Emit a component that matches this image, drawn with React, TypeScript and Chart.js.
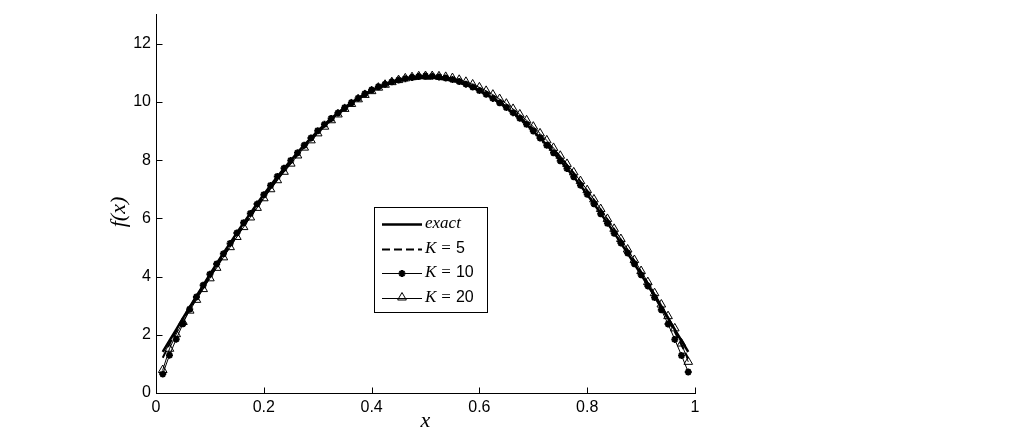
import React, { useEffect, useRef } from "react";
import { Chart, registerables } from "chart.js";
Chart.register(...registerables);

const xs = [0.0125,0.025,0.0375,0.05,0.0625,0.075,0.0875,0.1,0.1125,0.125,0.1375,0.15,0.1625,0.175,0.1875,0.2,0.2125,0.225,0.2375,0.25,0.2625,0.275,0.2875,0.3,0.3125,0.325,0.3375,0.35,0.3625,0.375,0.3875,0.4,0.4125,0.425,0.4375,0.45,0.4625,0.475,0.4875,0.5,0.5125,0.525,0.5375,0.55,0.5625,0.575,0.5875,0.6,0.6125,0.625,0.6375,0.65,0.6625,0.675,0.6875,0.7,0.7125,0.725,0.7375,0.75,0.7625,0.775,0.7875,0.8,0.8125,0.825,0.8375,0.85,0.8625,0.875,0.8875,0.9,0.9125,0.925,0.9375,0.95,0.9625,0.975,0.9875];

const exactY = [1.41,1.80,2.18,2.57,2.95,3.33,3.70,4.07,4.44,4.80,5.15,5.50,5.84,6.17,6.50,6.82,7.13,7.43,7.71,7.99,8.26,8.52,8.76,9.00,9.22,9.43,9.62,9.81,9.97,10.13,10.27,10.40,10.51,10.61,10.69,10.76,10.81,10.85,10.87,10.88,10.87,10.85,10.81,10.76,10.69,10.61,10.51,10.40,10.27,10.13,9.97,9.81,9.62,9.43,9.22,9.00,8.76,8.52,8.26,7.99,7.71,7.43,7.13,6.82,6.50,6.17,5.84,5.50,5.15,4.80,4.44,4.07,3.70,3.33,2.95,2.57,2.18,1.80,1.41];

const k5Y = [1.21,1.68,2.12,2.54,2.91,3.27,3.63,3.99,4.35,4.70,5.05,5.40,5.74,6.07,6.40,6.72,7.03,7.33,7.62,7.90,8.18,8.44,8.69,8.93,9.16,9.37,9.57,9.76,9.93,10.09,10.23,10.36,10.47,10.57,10.65,10.71,10.76,10.79,10.80,10.80,10.80,10.79,10.76,10.72,10.66,10.58,10.49,10.39,10.27,10.14,9.99,9.84,9.66,9.48,9.28,9.07,8.84,8.61,8.36,8.10,7.83,7.55,7.26,6.95,6.64,6.31,5.97,5.63,5.27,4.91,4.54,4.16,3.77,3.37,2.96,2.54,2.10,1.65,1.18];

const k10Y = [0.65,1.30,1.85,2.38,2.88,3.30,3.70,4.08,4.43,4.78,5.14,5.50,5.85,6.17,6.49,6.81,7.13,7.44,7.72,7.99,8.25,8.51,8.76,9.01,9.23,9.43,9.62,9.80,9.97,10.13,10.28,10.41,10.52,10.61,10.69,10.75,10.80,10.84,10.87,10.89,10.88,10.86,10.82,10.77,10.70,10.61,10.51,10.39,10.26,10.12,9.97,9.81,9.63,9.44,9.23,9.00,8.76,8.51,8.25,7.98,7.71,7.43,7.14,6.83,6.50,6.16,5.83,5.49,5.15,4.81,4.44,4.06,3.68,3.28,2.86,2.37,1.84,1.29,0.72];

const k20Y = [0.79,1.52,2.02,2.44,2.83,3.20,3.57,3.94,4.30,4.66,5.01,5.36,5.70,6.03,6.36,6.69,7.00,7.31,7.60,7.88,8.16,8.43,8.68,8.92,9.15,9.37,9.57,9.76,9.93,10.09,10.24,10.37,10.49,10.59,10.68,10.75,10.81,10.85,10.88,10.89,10.89,10.88,10.86,10.82,10.76,10.69,10.60,10.50,10.38,10.25,10.10,9.94,9.76,9.57,9.37,9.15,8.92,8.68,8.42,8.15,7.87,7.58,7.28,6.97,6.65,6.32,5.98,5.64,5.29,4.93,4.57,4.19,3.81,3.43,3.04,2.64,2.22,1.70,1.07];

const xTicks = [0, 0.2, 0.4, 0.6, 0.8, 1];
const yTicks = [0, 2, 4, 6, 8, 10, 12];
const seriesNames = ["exact", "K = 5", "K = 10", "K = 20"];
const xTitle = "x";
const yTitle = "f(x)";

const SANS = "'Liberation Sans', Arial, sans-serif";
const SERIF = "'Liberation Serif', 'DejaVu Serif', serif";

function drawStar(ctx: CanvasRenderingContext2D, x: number, y: number, r: number) {
  ctx.beginPath();
  ctx.moveTo(x - r, y); ctx.lineTo(x + r, y);
  ctx.moveTo(x, y - r); ctx.lineTo(x, y + r);
  const d = r * Math.SQRT1_2;
  ctx.moveTo(x - d, y - d); ctx.lineTo(x + d, y + d);
  ctx.moveTo(x - d, y + d); ctx.lineTo(x + d, y - d);
  ctx.stroke();
}
function drawTri(ctx: CanvasRenderingContext2D, x: number, y: number, r: number) {
  ctx.beginPath();
  let a = 0;
  ctx.moveTo(x + Math.sin(a) * r, y - Math.cos(a) * r);
  a += (2 * Math.PI) / 3;
  ctx.lineTo(x + Math.sin(a) * r, y - Math.cos(a) * r);
  a += (2 * Math.PI) / 3;
  ctx.lineTo(x + Math.sin(a) * r, y - Math.cos(a) * r);
  ctx.closePath();
  ctx.stroke();
}

const decorPlugin = {
  id: "decor",
  afterDraw(chart: any) {
    const ctx: CanvasRenderingContext2D = chart.ctx;
    const xs_ = chart.scales.x;
    const ys_ = chart.scales.y;
    const { left, bottom } = chart.chartArea;
    ctx.save();
    ctx.strokeStyle = "#000";
    ctx.lineWidth = 1;
    ctx.beginPath();
    xTicks.forEach((v) => {
      if (v === 0) return;
      const px = Math.round(xs_.getPixelForValue(v)) + 0.5;
      ctx.moveTo(px, Math.round(bottom) + 0.5);
      ctx.lineTo(px, Math.round(bottom) - 5.5);
    });
    yTicks.forEach((v) => {
      if (v === 0) return;
      const py = Math.round(ys_.getPixelForValue(v)) + 0.5;
      ctx.moveTo(Math.round(left) + 0.5, py);
      ctx.lineTo(Math.round(left) + 6.5, py);
    });
    ctx.stroke();

    ctx.fillStyle = "#000";
    ctx.textAlign = "center";
    ctx.textBaseline = "middle";
    ctx.font = `italic 22px ${SERIF}`;
    ctx.fillText(xTitle, (chart.chartArea.left + chart.chartArea.right) / 2, 421);
    ctx.save();
    ctx.translate(119, 212);
    ctx.rotate(-Math.PI / 2);
    ctx.font = `italic 22px ${SERIF}`;
    ctx.fillText(yTitle, 0, 0);
    ctx.restore();

    const bx = 374.5, by = 207.5, bw = 113, bh = 105;
    ctx.fillStyle = "#fff";
    ctx.fillRect(bx, by, bw, bh);
    ctx.strokeStyle = "#000";
    ctx.lineWidth = 1;
    ctx.strokeRect(bx, by, bw, bh);
    const rows = [224, 249, 273, 298];
    const lx0 = 382, lx1 = 422, tx = 425;
    ctx.textAlign = "left";
    ctx.textBaseline = "middle";
    rows.forEach((ry, i) => {
      ctx.save();
      ctx.strokeStyle = "#000";
      if (i === 0) { ctx.lineWidth = 2.5; ctx.setLineDash([]); }
      else if (i === 1) { ctx.lineWidth = 2; ctx.setLineDash([8, 4]); }
      else { ctx.lineWidth = 1; ctx.setLineDash([]); }
      ctx.beginPath();
      ctx.moveTo(lx0, ry + 0.5);
      ctx.lineTo(lx1, ry + 0.5);
      ctx.stroke();
      ctx.setLineDash([]);
      if (i === 2) { ctx.lineWidth = 2; drawStar(ctx, (lx0 + lx1) / 2, ry + 0.5, 3.5); }
      if (i === 3) { ctx.lineWidth = 1; drawTri(ctx, (lx0 + lx1) / 2, ry - 0.5, 5); }
      ctx.restore();
      ctx.fillStyle = "#000";
      const name = seriesNames[i];
      if (i === 0) {
        ctx.font = `italic 17px ${SERIF}`;
        ctx.fillText(name, tx, ry);
      } else {
        const parts = name.split(" = ");
        ctx.font = `italic 17px ${SERIF}`;
        ctx.fillText(parts[0], tx, ry);
        let x = tx + ctx.measureText(parts[0]).width + 5;
        ctx.font = `17px ${SERIF}`;
        ctx.fillText("=", x, ry);
        x += ctx.measureText("=").width + 5;
        ctx.font = `16px ${SANS}`;
        ctx.fillText(parts[1], x, ry);
      }
    });
    ctx.restore();
  },
};

export default function App() {
  const ref = useRef<HTMLCanvasElement>(null);
  useEffect(() => {
    const pts = (ys: number[]) => xs.map((x, i) => ({ x, y: ys[i] }));
    const chart = new Chart(ref.current as HTMLCanvasElement, {
      type: "line",
      data: {
        datasets: [
          { label: seriesNames[0], data: pts(exactY), borderColor: "#000", borderWidth: 2.5, pointRadius: 0, tension: 0, order: 4 },
          { label: seriesNames[1], data: pts(k5Y), borderColor: "#000", borderWidth: 2, borderDash: [8, 4], pointRadius: 0, tension: 0, order: 3 },
          { label: seriesNames[2], data: pts(k10Y), borderColor: "#000", borderWidth: 1, pointStyle: "star", pointRadius: 3.5, pointBorderWidth: 2, pointBorderColor: "#000", pointBackgroundColor: "#000", tension: 0, order: 2 },
          { label: seriesNames[3], data: pts(k20Y), borderColor: "#000", borderWidth: 1, pointStyle: "triangle", pointRadius: 5, pointBorderWidth: 1, pointBorderColor: "#000", pointBackgroundColor: "rgba(0,0,0,0)", tension: 0, order: 1 },
        ],
      } as any,
      options: {
        animation: false,
        responsive: false,
        layout: { padding: { top: 13, right: 329, left: 0, bottom: 0 } },
        plugins: { legend: { display: false }, tooltip: { enabled: false } },
        scales: {
          x: {
            type: "linear",
            min: 0,
            max: 1,
            afterBuildTicks: (s: any) => { s.ticks = xTicks.map((v) => ({ value: v })); },
            afterFit: (s: any) => { s.height = 44; },
            grid: { display: false, drawTicks: false },
            border: { display: true, color: "#000", width: 1 },
            ticks: {
              padding: 5,
              color: "#000",
              maxRotation: 0,
              autoSkip: false,
              font: { family: SANS, size: 16 },
              callback: (v: any) => String(Number(Number(v).toFixed(1))),
            },
          },
          y: {
            type: "linear",
            min: 0,
            max: 13,
            afterBuildTicks: (s: any) => { s.ticks = yTicks.map((v) => ({ value: v })); },
            afterFit: (s: any) => { s.width = 156; },
            grid: { display: false, drawTicks: false },
            border: { display: true, color: "#000", width: 1 },
            ticks: {
              padding: 5,
              color: "#000",
              autoSkip: false,
              font: { family: SANS, size: 16 },
              callback: (v: any) => String(v),
            },
          },
        },
      } as any,
      plugins: [decorPlugin],
    });
    return () => chart.destroy();
  }, []);
  return (
    <div style={{ position: "absolute", left: 0, top: 0, width: 1024, height: 437, background: "#fff" }}>
      <canvas ref={ref} width={1024} height={437} style={{ display: "block" }} />
    </div>
  );
}
